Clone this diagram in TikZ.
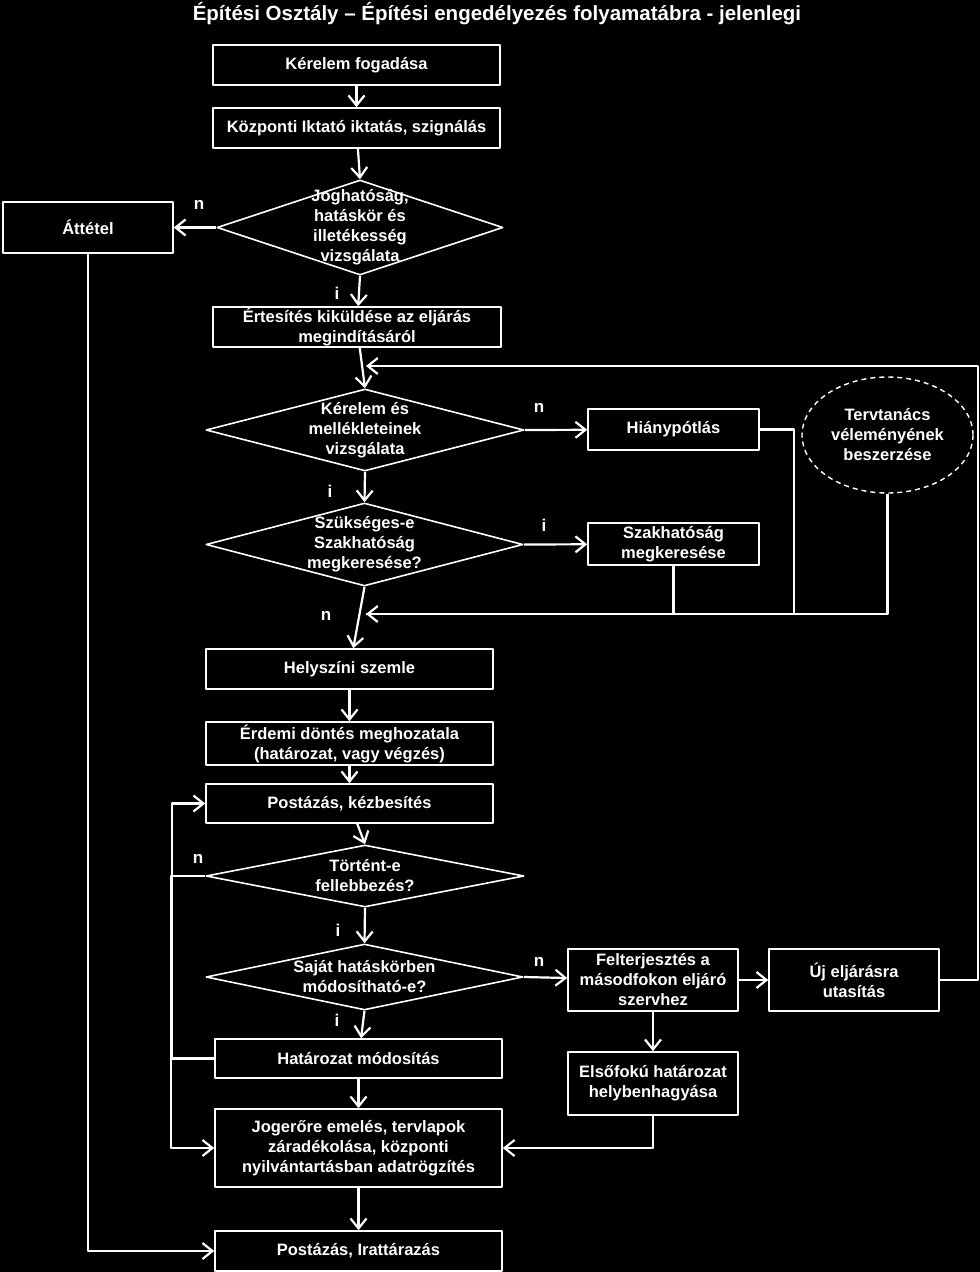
\documentclass[tikz,border=0pt]{standalone}
\usepackage{fontspec}
\setmainfont{Liberation Sans}
\usetikzlibrary{shapes.geometric,arrows.meta}

\tikzset{
  box/.style={draw=white, line width=1.6pt, text=white, align=center, inner sep=0pt,
    minimum width=287pt, minimum height=40pt},
  smallbox/.style={box, minimum width=171pt},
  decision/.style={draw=white, line width=1.6pt, diamond, inner sep=0pt},
  txt/.style={text=white, align=center, inner sep=0pt},
  lbl/.style={text=white, inner sep=0pt, font=\fontsize{17}{20}\bfseries},
  arr/.style={->, draw=white, line width=2.2pt},
  line/.style={draw=white, line width=2.2pt}
}

\begin{document}
\begin{tikzpicture}[x=1pt, y=-1pt, >={Straight Barb[length=10pt,width=16pt]},
    font=\fontsize{16.5}{20}\bfseries, line join=round]
  \fill[black] (0,0) rectangle (980,1272);
  \useasboundingbox (0,0) rectangle (980,1272);

  \node[txt, font=\fontsize{20.5}{24}\bfseries] (title) at (497,14)
    {Építési Osztály – Építési engedélyezés folyamatábra - jelenlegi};

  % main column
  \node[box] (fogad) at (356.5,65) {Kérelem fogadása};
  \node[box] (iktat) at (356.5,128) {Központi Iktató iktatás, szignálás};
  \node[decision, minimum width=286pt, minimum height=95pt] (jog) at (360,227.5) {};
  \node[txt] (jogtxt) at (jog) {Joghatóság,\\hatáskör és\\illetékesség\\vizsgálata};
  \node[box, minimum width=170pt, minimum height=51pt] (attetel) at (88,227.5) {Áttétel};
  \node[box, minimum width=288pt] (ertesit) at (357,327) {Értesítés kiküldése az eljárás\\megindításáról};

  \node[decision, minimum width=318pt, minimum height=82pt] (kerelem) at (365,430) {};
  \node[txt] (kertxt) at (kerelem) {Kérelem és\\mellékleteinek\\vizsgálata};
  \node[smallbox, minimum height=41pt] (hiany) at (673.5,429.5) {Hiánypótlás};
  \node[draw=white, dash pattern=on 5pt off 4pt, line width=1.4pt, ellipse, minimum width=171pt,
    minimum height=116pt, inner sep=0pt, txt] (terv) at (887.5,435) {Tervtanács\\véleményének\\beszerzése};

  \node[decision, minimum width=317pt, minimum height=83pt] (szukseg) at (364.5,544.5) {};
  \node[txt] (szuktxt) at (szukseg) {Szükséges-e\\Szakhatóság\\megkeresése?};
  \node[smallbox, minimum height=42pt] (szak) at (673.5,544) {Szakhatóság\\megkeresése};

  \node[box] (helyszin) at (349.5,669) {Helyszíni szemle};
  \node[box, minimum height=43pt] (erdemi) at (349.5,743.5) {Érdemi döntés meghozatala\\(határozat, vagy végzés)};
  \node[box, minimum height=39pt] (postaz) at (349.5,803.5) {Postázás, kézbesítés};

  \node[decision, minimum width=318pt, minimum height=62pt] (fellebb) at (365,876) {};
  \node[txt] (feltxt) at (fellebb) {Történt-e\\fellebbezés?};
  \node[decision, minimum width=317pt, minimum height=66pt] (sajat) at (364.5,977) {};
  \node[txt] (sajtxt) at (sajat) {Saját hatáskörben\\módosítható-e?};

  \node[smallbox, minimum width=170pt, minimum height=62pt] (felterj) at (653,980) {Felterjesztés a\\másodfokon eljáró\\szervhez};
  \node[smallbox, minimum width=170pt, minimum height=62pt] (uj) at (854,980) {Új eljárásra\\utasítás};
  \node[smallbox, minimum width=170pt, minimum height=63pt] (elso) at (653,1083.5) {Elsőfokú határozat\\helybenhagyása};

  \node[box, minimum height=39pt] (modosit) at (358.5,1058.5) {Határozat módosítás};
  \node[box, minimum height=78pt] (jogerore) at (358.5,1148) {Jogerőre emelés, tervlapok\\záradékolása, központi\\nyilvántartásban adatrögzítés};
  \node[box] (irattar) at (358.5,1251) {Postázás, Irattárazás};

  % free ends of the return lines
  \coordinate (vissza) at (366,366);
  \coordinate (gyujto) at (366,614);

  % connectors
  \draw[arr] (fogad) -- (iktat);
  \draw[arr] (iktat) -- (jog.north);
  \draw[arr] (jog.west) -- (attetel);
  \draw[arr] (jog.south) -- (ertesit);
  \draw[arr] (attetel) |- (irattar);
  \draw[arr] (ertesit) -- (kerelem.north);
  \draw[arr] (kerelem.east) -- (hiany);
  \draw[arr] (kerelem.south) -- (szukseg.north);
  \draw[arr] (szukseg.east) -- (szak);
  \draw[arr] (szukseg.south) -- (helyszin);
  \draw[line] (hiany.east) -- ++(34,0) |- (gyujto);
  \draw[line] (szak) -- (szak |- gyujto);
  \draw[arr] (terv) |- (gyujto);
  \draw[arr] (helyszin) -- (erdemi);
  \draw[arr] (erdemi) -- (postaz);
  \draw[arr] (postaz) -- (fellebb.north);
  \draw[arr] (fellebb.west) -- ++(-34,0) |- (jogerore);
  \draw[arr] (fellebb.south) -- (sajat.north);
  \draw[arr] (sajat.east) -- (felterj);
  \draw[arr] (sajat.south) -- (modosit);
  \draw[arr] (modosit.west) -- ++(-42,0) |- (postaz);
  \draw[arr] (felterj) -- (uj);
  \draw[arr] (felterj) -- (elso);
  \draw[arr] (uj.east) -- ++(38,0) |- (vissza);
  \draw[arr] (elso) |- (jogerore);
  \draw[arr] (modosit) -- (jogerore);
  \draw[arr] (jogerore) -- (irattar);

  % branch labels
  \node[lbl] (n1) at (199,205) {n};
  \node[lbl] (i1) at (337,293) {i};
  \node[lbl] (n2) at (539,408) {n};
  \node[lbl] (i2) at (330,491) {i};
  \node[lbl] (i3) at (544,525) {i};
  \node[lbl] (n3) at (326,616) {n};
  \node[lbl] (n4) at (198,859) {n};
  \node[lbl] (i4) at (338,930) {i};
  \node[lbl] (n5) at (539,962) {n};
  \node[lbl] (i5) at (337,1020) {i};
\end{tikzpicture}
\end{document}
